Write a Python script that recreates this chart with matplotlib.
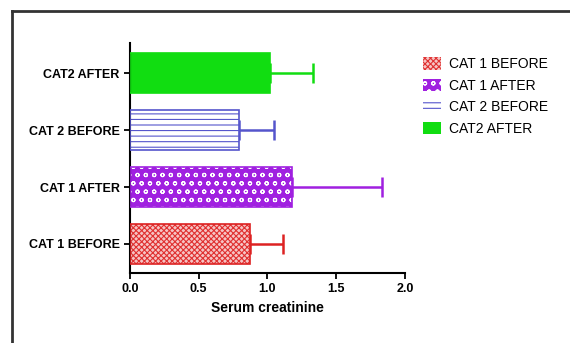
import matplotlib
matplotlib.use('Agg')
import matplotlib.pyplot as plt
from matplotlib.lines import Line2D

plt.rcParams['font.family'] = ['Liberation Sans Narrow', 'Liberation Sans', 'DejaVu Sans']
plt.rcParams['hatch.linewidth'] = 0.8

# data
labels = ['CAT 1 BEFORE', 'CAT 1 AFTER', 'CAT 2 BEFORE', 'CAT2 AFTER']
means = [0.87, 1.18, 0.79, 1.02]
errs = [0.24, 0.65, 0.26, 0.31]
ticks = [0.0, 0.5, 1.0, 1.5, 2.0]
tick_labels = ['0.0', '0.5', '1.0', '1.5', '2.0']

faces = ['#f6c4c4', '#a020e0', 'white', '#11dd11']
hatch_cols = ['#e03030', 'white', '#5555cc', '#11dd11']
edges = ['#dd2222', '#a020e0', '#5555cc', '#11dd11']
hatches = ['xxxxxx', 'oo', '---', None]

fig = plt.figure(figsize=(5.7, 3.43), dpi=100)
ax = fig.add_axes([0.228, 0.204, 0.4825, 0.671])

ypos = list(range(len(labels)))
for i in ypos:
    # hatched fill first, then outline + error bar
    ax.barh(i, means[i], height=0.7, color=faces[i], edgecolor=hatch_cols[i],
            hatch=hatches[i], linewidth=0, zorder=2)
    ax.barh(i, means[i], height=0.7, color='none', edgecolor=edges[i],
            linewidth=1.2, zorder=3)
    ax.errorbar(means[i], i, xerr=[[0], [errs[i]]], fmt='none', ecolor=edges[i],
                elinewidth=1.8, capsize=7, capthick=1.8, zorder=1)

ax.set_xlim(0, 2.0)
ax.set_ylim(-0.51, 3.53)
ax.set_xticks(ticks)
ax.set_xticklabels(tick_labels, fontsize=9, fontweight='bold')
ax.set_yticks(ypos)
ax.set_yticklabels(labels, fontsize=9, fontweight='bold')
ax.set_xlabel('Serum creatinine', fontsize=10, fontweight='bold', labelpad=4)
for s in ['top', 'right']:
    ax.spines[s].set_visible(False)
for s in ['left', 'bottom']:
    ax.spines[s].set_linewidth(1.5)
ax.tick_params(width=1.3, length=4)

leg_handles = []
for i in ypos:
    p = plt.Rectangle((0, 0), 1, 1, facecolor=faces[i], edgecolor=hatch_cols[i],
                      hatch=hatches[i], linewidth=0)
    leg_handles.append(p)
fig.legend(leg_handles, labels, loc='upper left', bbox_to_anchor=(0.72, 0.87),
           frameon=False, fontsize=10, handlelength=1.3, handleheight=1.0,
           labelspacing=0.55, handletextpad=0.6)

# frame around the picture (left and top)
fig.add_artist(Line2D([12 / 570, 12 / 570], [0, 1 - 11 / 343], color='#333333', lw=2))
fig.add_artist(Line2D([12 / 570, 1], [1 - 11 / 343, 1 - 11 / 343], color='#333333', lw=2))

fig.savefig('out.png', dpi=100)
